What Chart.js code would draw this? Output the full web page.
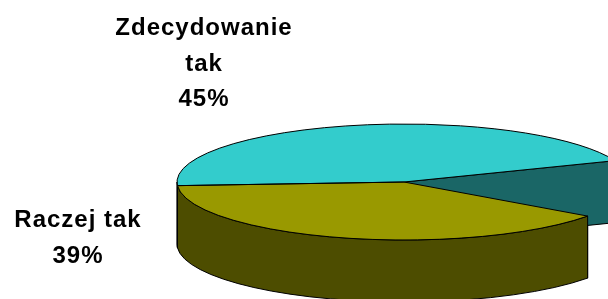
<!DOCTYPE html>
<html>
<head>
<meta charset="utf-8">
<script src="https://cdn.jsdelivr.net/npm/chart.js@4"></script>
<style>
    body { margin: 0; background: #fff; }
    #frame { width: 608px; height: 299px; overflow: hidden; }
    #box { width: 808px; height: 364px; }
</style>
</head>
<body>
<div id="frame"><div id="box"><canvas id="pieChart"></canvas></div></div>
<script>
// survey answers, in the order the pie draws them (clockwise)
var answerLabels = ['Raczej nie', 'Raczej tak', 'Zdecydowanie tak'];
var answerPercents = [16, 39, 45];

// first slice has no fill, so only the cut face of its neighbour shows
var TOP_COLORS = ['rgba(0,0,0,0)', '#999900', '#33cccc'];
var SIDE_COLORS = ['rgba(0,0,0,0)', '#4d4d00', '#1a6666'];

var LABEL_FONT = 'bold 24px "Liberation Sans", Arial, sans-serif';

function isHidden(color) {
    return !color || color === 'rgba(0,0,0,0)';
}

function wrapWords(ctx, text, maxWidth) {
    var words = text.split(' ');
    var lines = [];
    var line = '';
    words.forEach(function(w) {
        var test = line ? line + ' ' + w : w;
        if (line && ctx.measureText(test).width > maxWidth) {
            lines.push(line);
            line = w;
        } else {
            line = test;
        }
    });
    if (line) lines.push(line);
    return lines;
}

// draws the pie as a tilted disc with walls, the library draws the top faces
var pie3d = {
    id: 'pie3d',
    beforeDatasetsDraw: function(chart, args, opts) {
        var ctx = chart.ctx;
        var arcs = chart.getDatasetMeta(0).data;
        var k = opts.tilt;
        var depth = opts.depth;
        ctx.save();
        ctx.lineWidth = 1;
        ctx.strokeStyle = '#000';
        ctx.lineJoin = 'round';

        // radial cut faces
        arcs.forEach(function(arc, i) {
            var side = opts.sideColors[i];
            if (isHidden(side)) return;
            var p = arc.getProps(['x', 'y', 'startAngle', 'endAngle', 'outerRadius'], true);
            [p.startAngle, p.endAngle].forEach(function(t) {
                var ex = p.x + p.outerRadius * Math.cos(t);
                var ey = p.y + p.outerRadius * k * Math.sin(t);
                ctx.beginPath();
                ctx.moveTo(p.x, p.y);
                ctx.lineTo(ex, ey);
                ctx.lineTo(ex, ey + depth);
                ctx.lineTo(p.x, p.y + depth);
                ctx.closePath();
                ctx.fillStyle = side;
                ctx.fill();
                ctx.stroke();
            });
        });

        // outer walls, only the front half can be seen
        arcs.forEach(function(arc, i) {
            var side = opts.sideColors[i];
            if (isHidden(side)) return;
            var p = arc.getProps(['x', 'y', 'startAngle', 'endAngle', 'outerRadius'], true);
            var rx = p.outerRadius, ry = p.outerRadius * k;
            for (var n = -1; n <= 2; n++) {
                var a = Math.max(p.startAngle, n * 2 * Math.PI);
                var b = Math.min(p.endAngle, n * 2 * Math.PI + Math.PI);
                if (b <= a) continue;
                ctx.beginPath();
                ctx.ellipse(p.x, p.y, rx, ry, 0, a, b);
                ctx.ellipse(p.x, p.y + depth, rx, ry, 0, b, a, true);
                ctx.closePath();
                ctx.fillStyle = side;
                ctx.fill();
                ctx.stroke();
            }
        });

        // squash the top faces
        var c = arcs[0];
        ctx.translate(c.x, c.y);
        ctx.scale(1, k);
        ctx.translate(-c.x, -c.y);
    },
    afterDatasetsDraw: function(chart, args, opts) {
        var ctx = chart.ctx;
        var arcs = chart.getDatasetMeta(0).data;
        var k = opts.tilt;
        ctx.restore();

        // outlines of the top faces
        ctx.save();
        ctx.lineWidth = 1;
        ctx.strokeStyle = '#000';
        ctx.lineJoin = 'round';
        arcs.forEach(function(arc, i) {
            if (isHidden(TOP_COLORS[i])) return;
            var p = arc.getProps(['x', 'y', 'startAngle', 'endAngle', 'outerRadius'], true);
            ctx.beginPath();
            ctx.moveTo(p.x, p.y);
            ctx.ellipse(p.x, p.y, p.outerRadius, p.outerRadius * k, 0, p.startAngle, p.endAngle);
            ctx.closePath();
            ctx.stroke();
        });
        ctx.restore();

        // data labels
        var values = chart.data.datasets[0].data;
        var total = values.reduce(function(s, v) { return s + v; }, 0);
        ctx.save();
        ctx.font = LABEL_FONT;
        ctx.letterSpacing = '1px';
        ctx.fillStyle = '#000';
        ctx.textAlign = 'center';
        ctx.textBaseline = 'alphabetic';
        chart.data.labels.forEach(function(label, i) {
            var at = opts.labelAt[i];
            var lines = wrapWords(ctx, label, opts.wrapWidth);
            lines.push(Math.round(values[i] / total * 100) + '%');
            lines.forEach(function(line, j) {
                ctx.fillText(line, at[0], at[1] + j * opts.lineHeight);
            });
        });
        ctx.restore();
    }
};

var ctx = document.getElementById('pieChart');
var myChart = new Chart(ctx, {
    type: 'pie',
    plugins: [pie3d],
    data: {
        labels: answerLabels,
        datasets: [{
            data: answerPercents,
            backgroundColor: TOP_COLORS,
            borderWidth: 0,
            clip: false
        }]
    },
    options: {
        responsive: true,
        maintainAspectRatio: false,
        animation: false,
        events: [],
        radius: 227,
        rotation: 68.4,
        layout: { padding: 0 },
        plugins: {
            legend: { display: false },
            tooltip: { enabled: false },
            pie3d: {
                tilt: 0.2555,
                depth: 62,
                sideColors: SIDE_COLORS,
                wrapWidth: 150,
                lineHeight: 35.5,
                labelAt: [[730, 150], [78, 227], [204, 35]]
            }
        }
    }
});
</script>
</body>
</html>
